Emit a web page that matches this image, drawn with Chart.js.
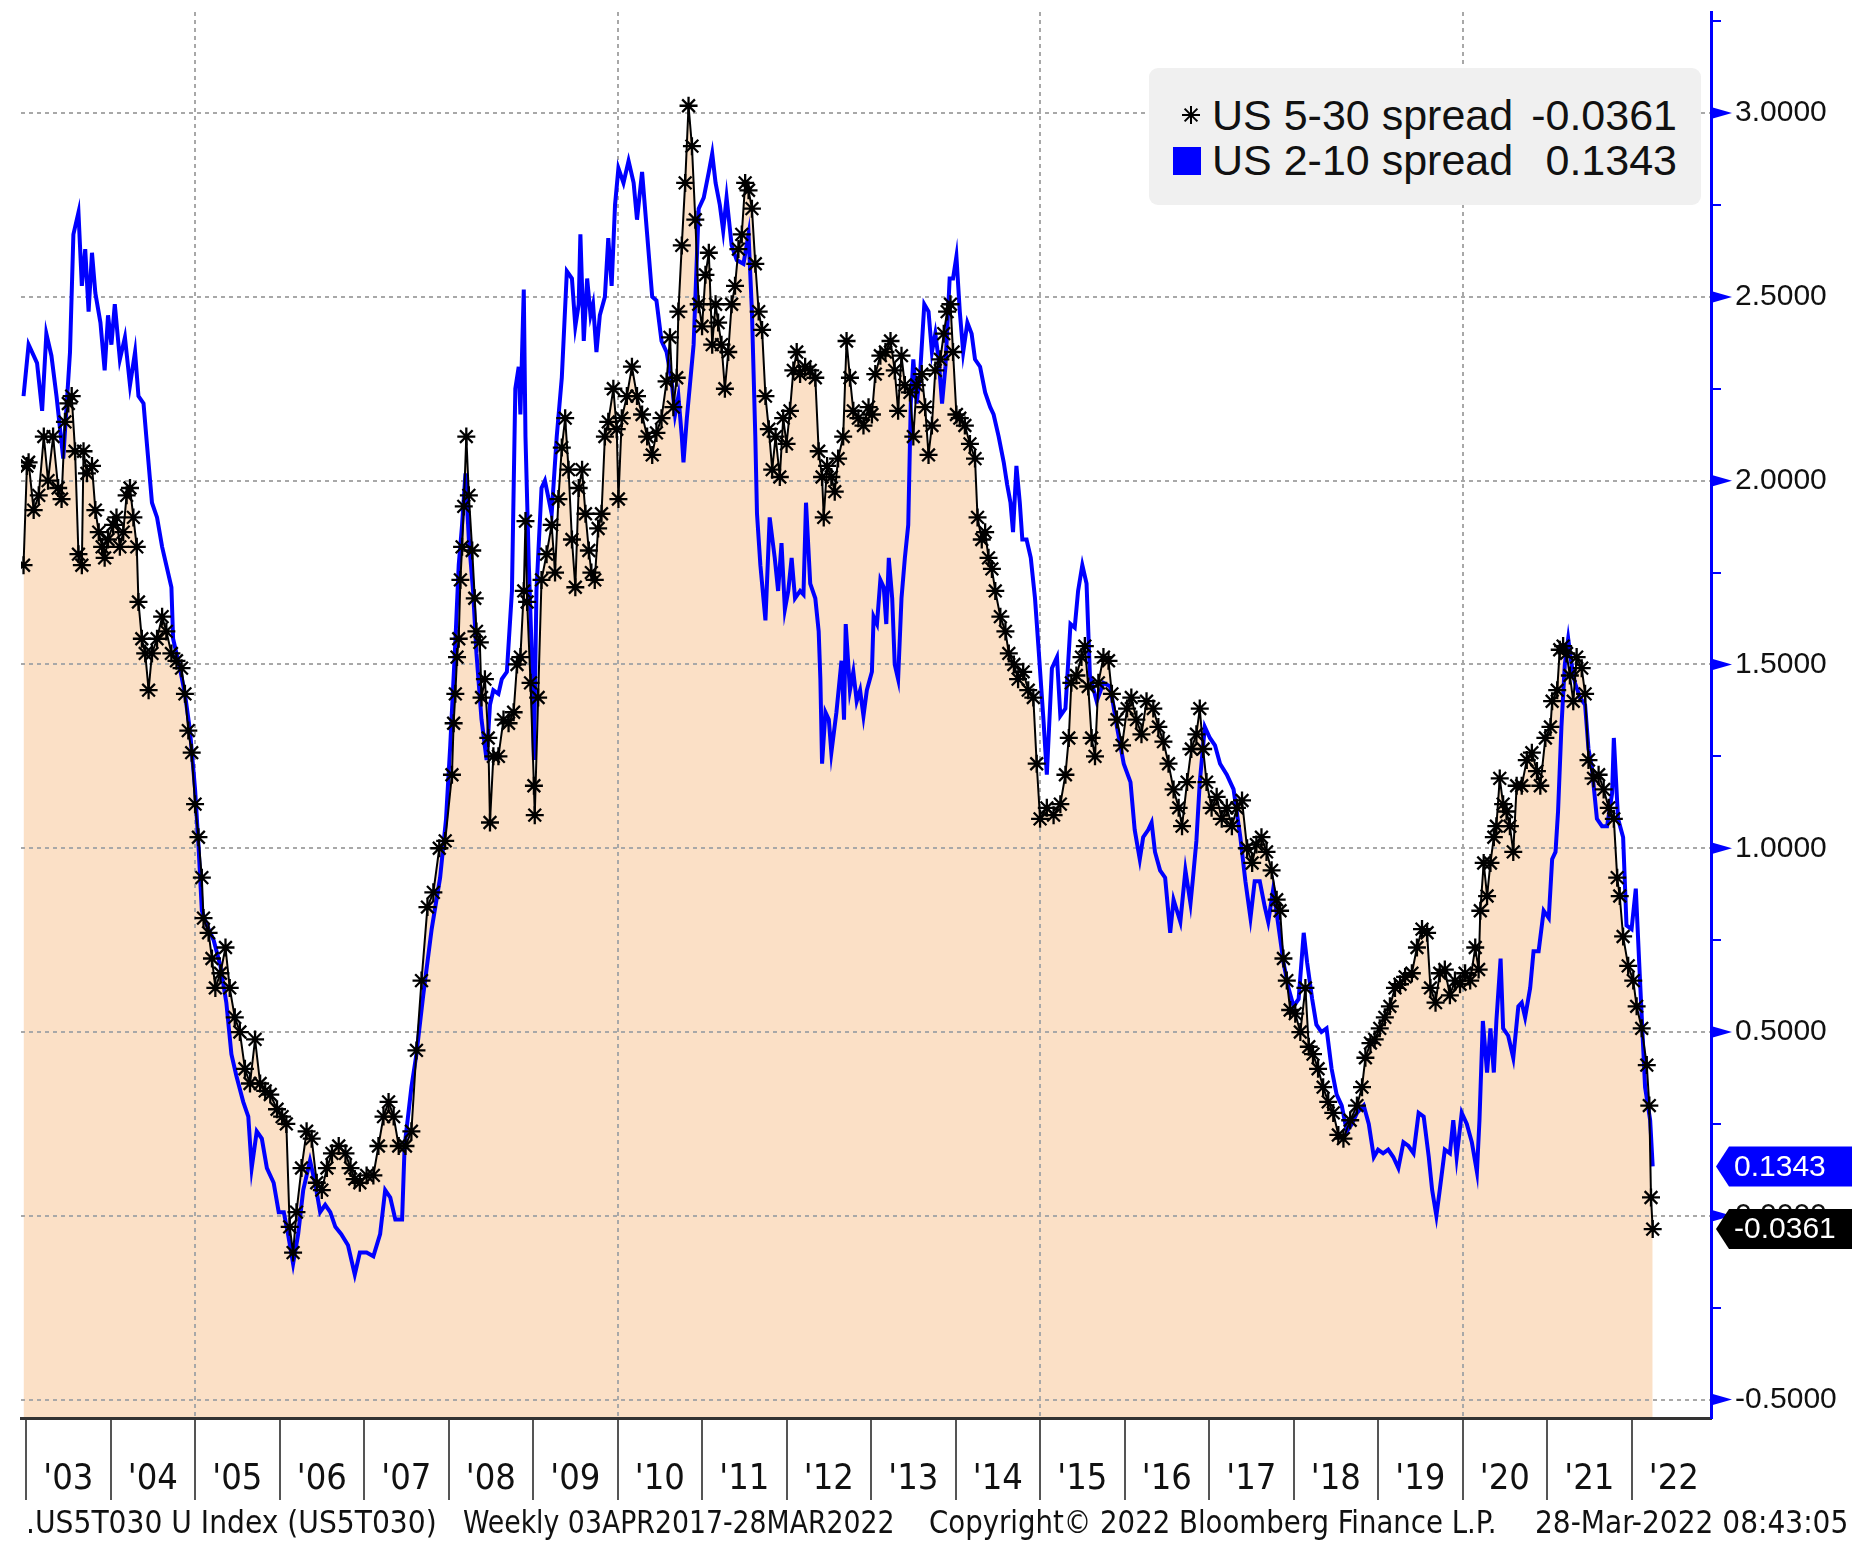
<!DOCTYPE html>
<html>
<head>
<meta charset="utf-8">
<script src="https://cdn.jsdelivr.net/npm/chart.js@4.4.1/dist/chart.umd.min.js"></script>
<style>
  body { margin: 0; background: #fff; }
  #wrap { position: relative; width: 1852px; height: 1542px; overflow: hidden; }
  #chart { position: absolute; left: 0; top: 0; }
  .legend {
    position: absolute; left: 1149px; top: 68px; width: 552px; height: 137px;
    background: #f0f0f0; border-radius: 9px;
    font-family: "Liberation Sans", Arial, sans-serif; font-size: 43px; color: #111;
  }
  .legend-row { position: absolute; left: 0; width: 100%; height: 46px; line-height: 46px; white-space: nowrap; }
  .legend-name { position: absolute; left: 63px; }
  .legend-value { position: absolute; right: 24px; }
  .legend-mark { position: absolute; }
  .footer span {
    position: absolute; top: 1504px; white-space: nowrap; transform-origin: 0 0;
    font-family: "Liberation Sans Narrow", "Arial Narrow", "DejaVu Sans Condensed", sans-serif;
    font-size: 32px; line-height: 36px; color: #111;
  }
</style>
</head>
<body>
<div id="wrap">
  <canvas id="chart" width="1852" height="1542"></canvas>
  <div class="legend" id="legend"></div>
  <div class="footer" id="footer"></div>
</div>
<script>
// US 5-30 spread (black asterisks, filled)
const spread530Dates = [
  2002.97, 2003.01, 2003.03, 2003.09, 2003.15, 2003.21, 2003.26, 2003.32, 2003.38, 2003.42,
  2003.46, 2003.50, 2003.54, 2003.58, 2003.62, 2003.66, 2003.68, 2003.72, 2003.78, 2003.82,
  2003.86, 2003.90, 2003.93, 2003.97, 2004.03, 2004.07, 2004.11, 2004.15, 2004.19, 2004.23,
  2004.27, 2004.31, 2004.33, 2004.37, 2004.41, 2004.45, 2004.49, 2004.55, 2004.61, 2004.66,
  2004.72, 2004.78, 2004.84, 2004.88, 2004.92, 2004.96, 2005.00, 2005.04, 2005.08, 2005.10,
  2005.16, 2005.20, 2005.24, 2005.30, 2005.36, 2005.41, 2005.47, 2005.53, 2005.59, 2005.65,
  2005.71, 2005.77, 2005.83, 2005.89, 2005.97, 2006.03, 2006.08, 2006.12, 2006.16, 2006.20,
  2006.26, 2006.32, 2006.38, 2006.44, 2006.50, 2006.56, 2006.62, 2006.70, 2006.78, 2006.84,
  2006.89, 2006.95, 2007.03, 2007.11, 2007.17, 2007.23, 2007.29, 2007.35, 2007.41, 2007.49,
  2007.56, 2007.62, 2007.68, 2007.75, 2007.82, 2007.89, 2007.96, 2008.04, 2008.06, 2008.08,
  2008.10, 2008.12, 2008.14, 2008.16, 2008.18, 2008.21, 2008.24, 2008.28, 2008.31, 2008.33,
  2008.37, 2008.39, 2008.43, 2008.47, 2008.49, 2008.53, 2008.59, 2008.65, 2008.71, 2008.77,
  2008.81, 2008.85, 2008.89, 2008.91, 2008.93, 2008.97, 2009.01, 2009.02, 2009.06, 2009.10,
  2009.16, 2009.22, 2009.26, 2009.30, 2009.34, 2009.38, 2009.42, 2009.46, 2009.50, 2009.54,
  2009.58, 2009.62, 2009.66, 2009.69, 2009.73, 2009.77, 2009.81, 2009.85, 2009.89, 2009.95,
  2009.99, 2010.01, 2010.05, 2010.11, 2010.17, 2010.23, 2010.29, 2010.35, 2010.41, 2010.46,
  2010.52, 2010.58, 2010.62, 2010.66, 2010.70, 2010.72, 2010.76, 2010.80, 2010.84, 2010.88,
  2010.92, 2010.96, 2011.00, 2011.04, 2011.08, 2011.12, 2011.16, 2011.19, 2011.23, 2011.27,
  2011.31, 2011.35, 2011.39, 2011.43, 2011.47, 2011.51, 2011.55, 2011.59, 2011.63, 2011.67,
  2011.71, 2011.75, 2011.79, 2011.83, 2011.87, 2011.92, 2011.96, 2012.00, 2012.04, 2012.08,
  2012.12, 2012.16, 2012.22, 2012.28, 2012.34, 2012.38, 2012.42, 2012.44, 2012.48, 2012.53,
  2012.57, 2012.61, 2012.67, 2012.71, 2012.75, 2012.79, 2012.85, 2012.91, 2012.97, 2013.01,
  2013.05, 2013.11, 2013.17, 2013.23, 2013.28, 2013.32, 2013.36, 2013.40, 2013.46, 2013.50,
  2013.54, 2013.60, 2013.64, 2013.68, 2013.72, 2013.76, 2013.82, 2013.86, 2013.90, 2013.94,
  2013.97, 2014.01, 2014.05, 2014.11, 2014.17, 2014.23, 2014.26, 2014.31, 2014.35, 2014.39,
  2014.43, 2014.47, 2014.53, 2014.59, 2014.63, 2014.69, 2014.74, 2014.80, 2014.86, 2014.92,
  2014.96, 2015.00, 2015.08, 2015.16, 2015.24, 2015.30, 2015.34, 2015.37, 2015.43, 2015.49,
  2015.53, 2015.57, 2015.61, 2015.65, 2015.69, 2015.75, 2015.81, 2015.85, 2015.91, 2015.97,
  2016.03, 2016.08, 2016.14, 2016.20, 2016.26, 2016.34, 2016.40, 2016.46, 2016.52, 2016.58,
  2016.64, 2016.68, 2016.74, 2016.79, 2016.85, 2016.89, 2016.93, 2016.97, 2017.03, 2017.09,
  2017.15, 2017.21, 2017.27, 2017.33, 2017.39, 2017.45, 2017.51, 2017.56, 2017.62, 2017.68,
  2017.74, 2017.80, 2017.84, 2017.88, 2017.92, 2017.96, 2018.02, 2018.08, 2018.14, 2018.18,
  2018.23, 2018.29, 2018.35, 2018.41, 2018.47, 2018.53, 2018.59, 2018.67, 2018.75, 2018.81,
  2018.85, 2018.91, 2018.96, 2019.02, 2019.08, 2019.14, 2019.20, 2019.26, 2019.32, 2019.40,
  2019.46, 2019.52, 2019.58, 2019.62, 2019.68, 2019.73, 2019.79, 2019.85, 2019.91, 2019.97,
  2020.03, 2020.09, 2020.15, 2020.19, 2020.21, 2020.25, 2020.29, 2020.33, 2020.37, 2020.40,
  2020.44, 2020.48, 2020.52, 2020.56, 2020.60, 2020.64, 2020.70, 2020.76, 2020.82, 2020.88,
  2020.92, 2020.98, 2021.04, 2021.06, 2021.12, 2021.15, 2021.19, 2021.23, 2021.27, 2021.31,
  2021.35, 2021.41, 2021.45, 2021.49, 2021.55, 2021.61, 2021.67, 2021.73, 2021.79, 2021.83,
  2021.86, 2021.90, 2021.96, 2022.02, 2022.06, 2022.12, 2022.18, 2022.21, 2022.23, 2022.25
];
const spread530Values = [
  1.77, 2.04, 2.05, 1.92, 1.96, 2.12, 2.00, 2.12, 1.98, 1.95,
  2.16, 2.21, 2.23, 2.08, 1.80, 1.77, 2.08, 2.02, 2.04, 1.92,
  1.86, 1.82, 1.79, 1.84, 1.88, 1.90, 1.82, 1.86, 1.96, 1.98,
  1.90, 1.82, 1.67, 1.57, 1.53, 1.43, 1.53, 1.57, 1.63, 1.59,
  1.53, 1.51, 1.49, 1.42, 1.32, 1.26, 1.12, 1.03, 0.92, 0.81,
  0.77, 0.70, 0.62, 0.66, 0.73, 0.62, 0.54, 0.50, 0.40, 0.36,
  0.48, 0.36, 0.34, 0.33, 0.29, 0.27, 0.25, -0.03, -0.10, 0.01,
  0.13, 0.23, 0.21, 0.09, 0.07, 0.13, 0.17, 0.19, 0.17, 0.13,
  0.10, 0.09, 0.11, 0.11, 0.19, 0.27, 0.31, 0.27, 0.19, 0.19,
  0.23, 0.45, 0.64, 0.84, 0.88, 1.00, 1.02, 1.20, 1.34, 1.42,
  1.52, 1.57, 1.73, 1.82, 1.93, 2.12, 1.96, 1.81, 1.68, 1.59,
  1.56, 1.41, 1.46, 1.30, 1.07, 1.25, 1.25, 1.35, 1.34, 1.37,
  1.50, 1.52, 1.70, 1.89, 1.67, 1.45, 1.17, 1.09, 1.41, 1.73,
  1.80, 1.88, 1.75, 1.95, 2.09, 2.17, 2.03, 1.84, 1.71, 1.98,
  2.03, 1.91, 1.81, 1.75, 1.73, 1.87, 1.91, 2.12, 2.16, 2.25,
  2.14, 1.95, 2.17, 2.23, 2.31, 2.23, 2.18, 2.12, 2.07, 2.13,
  2.17, 2.27, 2.39, 2.20, 2.28, 2.46, 2.64, 2.81, 3.02, 2.91,
  2.71, 2.48, 2.42, 2.56, 2.62, 2.37, 2.48, 2.43, 2.37, 2.25,
  2.35, 2.48, 2.53, 2.63, 2.67, 2.81, 2.79, 2.74, 2.59, 2.46,
  2.41, 2.23, 2.14, 2.03, 2.12, 2.01, 2.17, 2.10, 2.19, 2.30,
  2.35, 2.29, 2.31, 2.30, 2.28, 2.08, 2.01, 1.90, 2.04, 2.01,
  1.97, 2.06, 2.12, 2.38, 2.28, 2.19, 2.17, 2.15, 2.20, 2.18,
  2.29, 2.34, 2.35, 2.38, 2.30, 2.19, 2.34, 2.26, 2.24, 2.12,
  2.26, 2.29, 2.20, 2.07, 2.15, 2.30, 2.33, 2.40, 2.46, 2.48,
  2.35, 2.18, 2.17, 2.15, 2.10, 2.06, 1.90, 1.84, 1.86, 1.79,
  1.76, 1.70, 1.63, 1.59, 1.53, 1.50, 1.46, 1.48, 1.43, 1.41,
  1.23, 1.08, 1.11, 1.09, 1.12, 1.20, 1.30, 1.45, 1.47, 1.52,
  1.55, 1.44, 1.30, 1.25, 1.45, 1.52, 1.51, 1.42, 1.35, 1.28,
  1.38, 1.41, 1.35, 1.31, 1.40, 1.38, 1.33, 1.29, 1.23, 1.16,
  1.11, 1.06, 1.18, 1.27, 1.31, 1.38, 1.27, 1.18, 1.11, 1.14,
  1.08, 1.11, 1.06, 1.11, 1.13, 1.00, 0.96, 1.01, 1.03, 0.99,
  0.94, 0.86, 0.83, 0.70, 0.64, 0.56, 0.55, 0.50, 0.62, 0.46,
  0.44, 0.40, 0.35, 0.31, 0.28, 0.22, 0.21, 0.26, 0.30, 0.35,
  0.43, 0.47, 0.48, 0.51, 0.54, 0.57, 0.62, 0.63, 0.65, 0.66,
  0.73, 0.78, 0.77, 0.62, 0.58, 0.66, 0.67, 0.60, 0.64, 0.63,
  0.66, 0.64, 0.73, 0.67, 0.83, 0.96, 0.87, 0.96, 1.03, 1.06,
  1.19, 1.12, 1.10, 1.06, 0.99, 1.17, 1.17, 1.24, 1.26, 1.21,
  1.17, 1.30, 1.33, 1.40, 1.43, 1.54, 1.55, 1.53, 1.47, 1.40,
  1.52, 1.49, 1.42, 1.24, 1.19, 1.20, 1.16, 1.11, 1.08, 0.92,
  0.87, 0.76, 0.68, 0.64, 0.57, 0.51, 0.41, 0.30, 0.05, -0.0361
];

// US 2-10 spread (blue line)
const spread210Dates = [
  2002.97, 2003.03, 2003.09, 2003.13, 2003.19, 2003.24, 2003.30, 2003.36, 2003.44, 2003.52,
  2003.56, 2003.62, 2003.66, 2003.70, 2003.74, 2003.78, 2003.82, 2003.88, 2003.93, 2003.97,
  2004.01, 2004.05, 2004.11, 2004.17, 2004.23, 2004.29, 2004.33, 2004.39, 2004.43, 2004.49,
  2004.55, 2004.61, 2004.66, 2004.72, 2004.74, 2004.82, 2004.88, 2004.94, 2005.00, 2005.04,
  2005.08, 2005.14, 2005.22, 2005.30, 2005.37, 2005.43, 2005.49, 2005.57, 2005.63, 2005.67,
  2005.73, 2005.79, 2005.85, 2005.93, 2005.99, 2006.05, 2006.10, 2006.16, 2006.22, 2006.28,
  2006.36, 2006.42, 2006.48, 2006.54, 2006.60, 2006.66, 2006.73, 2006.81, 2006.89, 2006.95,
  2007.03, 2007.11, 2007.19, 2007.25, 2007.31, 2007.37, 2007.45, 2007.48, 2007.56, 2007.62,
  2007.70, 2007.80, 2007.90, 2007.97, 2008.02, 2008.08, 2008.12, 2008.16, 2008.20, 2008.24,
  2008.29, 2008.33, 2008.39, 2008.45, 2008.49, 2008.53, 2008.59, 2008.63, 2008.69, 2008.75,
  2008.79, 2008.83, 2008.85, 2008.89, 2008.91, 2008.95, 2008.99, 2009.01, 2009.04, 2009.10,
  2009.14, 2009.22, 2009.28, 2009.34, 2009.40, 2009.46, 2009.50, 2009.54, 2009.56, 2009.60,
  2009.64, 2009.68, 2009.71, 2009.75, 2009.79, 2009.85, 2009.89, 2009.93, 2009.97, 2010.01,
  2010.07, 2010.13, 2010.19, 2010.23, 2010.29, 2010.35, 2010.41, 2010.46, 2010.52, 2010.58,
  2010.64, 2010.68, 2010.72, 2010.76, 2010.78, 2010.82, 2010.86, 2010.90, 2010.96, 2011.02,
  2011.08, 2011.12, 2011.16, 2011.21, 2011.25, 2011.29, 2011.35, 2011.41, 2011.49, 2011.55,
  2011.59, 2011.63, 2011.65, 2011.69, 2011.75, 2011.80, 2011.86, 2011.90, 2011.94, 2011.98,
  2012.02, 2012.06, 2012.10, 2012.16, 2012.20, 2012.23, 2012.28, 2012.34, 2012.38, 2012.40,
  2012.42, 2012.46, 2012.50, 2012.53, 2012.59, 2012.65, 2012.68, 2012.70, 2012.75, 2012.79,
  2012.83, 2012.87, 2012.91, 2012.95, 2013.01, 2013.03, 2013.07, 2013.11, 2013.15, 2013.18,
  2013.21, 2013.25, 2013.28, 2013.32, 2013.36, 2013.40, 2013.44, 2013.47, 2013.50, 2013.54,
  2013.58, 2013.63, 2013.68, 2013.72, 2013.76, 2013.80, 2013.84, 2013.88, 2013.93, 2013.97,
  2014.01, 2014.05, 2014.09, 2014.14, 2014.19, 2014.23, 2014.29, 2014.35, 2014.41, 2014.45,
  2014.51, 2014.57, 2014.61, 2014.65, 2014.68, 2014.72, 2014.76, 2014.79, 2014.84, 2014.89,
  2014.94, 2014.98, 2015.04, 2015.08, 2015.14, 2015.20, 2015.24, 2015.30, 2015.36, 2015.41,
  2015.45, 2015.50, 2015.55, 2015.59, 2015.67, 2015.75, 2015.83, 2015.91, 2015.99, 2016.07,
  2016.12, 2016.18, 2016.22, 2016.28, 2016.32, 2016.36, 2016.42, 2016.48, 2016.54, 2016.58,
  2016.62, 2016.66, 2016.72, 2016.78, 2016.81, 2016.85, 2016.89, 2016.95, 2017.01, 2017.07,
  2017.13, 2017.21, 2017.29, 2017.37, 2017.43, 2017.49, 2017.54, 2017.60, 2017.66, 2017.70,
  2017.76, 2017.82, 2017.88, 2017.94, 2018.00, 2018.06, 2018.12, 2018.16, 2018.22, 2018.27,
  2018.33, 2018.39, 2018.45, 2018.51, 2018.57, 2018.63, 2018.69, 2018.75, 2018.83, 2018.89,
  2018.95, 2019.00, 2019.06, 2019.12, 2019.18, 2019.24, 2019.30, 2019.36, 2019.42, 2019.48,
  2019.54, 2019.60, 2019.64, 2019.69, 2019.73, 2019.79, 2019.85, 2019.89, 2019.93, 2019.99,
  2020.05, 2020.11, 2020.17, 2020.20, 2020.24, 2020.29, 2020.33, 2020.37, 2020.40, 2020.45,
  2020.48, 2020.54, 2020.60, 2020.66, 2020.70, 2020.74, 2020.80, 2020.84, 2020.90, 2020.96,
  2021.02, 2021.06, 2021.10, 2021.13, 2021.17, 2021.21, 2021.25, 2021.29, 2021.33, 2021.39,
  2021.45, 2021.49, 2021.53, 2021.59, 2021.65, 2021.71, 2021.77, 2021.79, 2021.84, 2021.90,
  2021.94, 2022.00, 2022.05, 2022.10, 2022.16, 2022.22, 2022.25
];
const spread210Values = [
  2.23, 2.37, 2.34, 2.32, 2.19, 2.40, 2.34, 2.23, 2.06, 2.35,
  2.67, 2.73, 2.53, 2.63, 2.46, 2.62, 2.51, 2.43, 2.30, 2.45,
  2.37, 2.48, 2.33, 2.39, 2.26, 2.35, 2.23, 2.21, 2.10, 1.94,
  1.90, 1.82, 1.77, 1.71, 1.57, 1.49, 1.42, 1.32, 1.16, 1.01,
  0.83, 0.79, 0.75, 0.68, 0.58, 0.44, 0.38, 0.31, 0.27, 0.13,
  0.23, 0.21, 0.13, 0.09, 0.01, 0.01, -0.05, -0.13, -0.05, 0.07,
  0.15, 0.09, 0.01, 0.03, 0.01, -0.03, -0.05, -0.08, -0.16, -0.10,
  -0.10, -0.11, -0.05, 0.07, 0.05, -0.01, -0.01, 0.19, 0.35, 0.44,
  0.60, 0.78, 0.92, 1.08, 1.28, 1.56, 1.77, 1.88, 2.02, 1.84,
  1.70, 1.53, 1.35, 1.24, 1.39, 1.43, 1.42, 1.46, 1.48, 1.70,
  2.25, 2.31, 2.18, 2.52, 2.12, 1.77, 1.49, 1.24, 1.70, 1.98,
  2.00, 1.91, 2.12, 2.28, 2.57, 2.55, 2.42, 2.48, 2.67, 2.38,
  2.55, 2.45, 2.48, 2.35, 2.45, 2.50, 2.66, 2.53, 2.75, 2.85,
  2.81, 2.87, 2.81, 2.71, 2.84, 2.67, 2.50, 2.49, 2.38, 2.35,
  2.27, 2.18, 2.23, 2.12, 2.05, 2.17, 2.27, 2.37, 2.74, 2.77,
  2.84, 2.89, 2.81, 2.75, 2.68, 2.77, 2.64, 2.60, 2.59, 2.67,
  2.46, 2.12, 1.91, 1.77, 1.62, 1.90, 1.79, 1.70, 1.83, 1.65,
  1.70, 1.79, 1.68, 1.70, 1.69, 1.94, 1.72, 1.68, 1.59, 1.46,
  1.23, 1.37, 1.35, 1.26, 1.37, 1.51, 1.35, 1.61, 1.43, 1.48,
  1.40, 1.43, 1.36, 1.43, 1.48, 1.63, 1.61, 1.73, 1.71, 1.61,
  1.79, 1.68, 1.50, 1.46, 1.68, 1.79, 1.88, 2.21, 2.33, 2.21,
  2.29, 2.48, 2.46, 2.35, 2.40, 2.33, 2.21, 2.31, 2.55, 2.55,
  2.61, 2.46, 2.35, 2.43, 2.40, 2.33, 2.31, 2.24, 2.20, 2.18,
  2.12, 2.05, 1.99, 1.94, 1.86, 2.04, 1.94, 1.84, 1.84, 1.79,
  1.68, 1.55, 1.35, 1.20, 1.49, 1.52, 1.36, 1.38, 1.61, 1.60,
  1.70, 1.77, 1.72, 1.47, 1.40, 1.45, 1.44, 1.33, 1.23, 1.18,
  1.05, 0.97, 1.03, 1.05, 1.07, 0.99, 0.94, 0.92, 0.77, 0.86,
  0.83, 0.80, 0.94, 0.85, 0.92, 1.02, 1.18, 1.33, 1.30, 1.28,
  1.23, 1.20, 1.16, 1.03, 0.91, 0.81, 0.91, 0.91, 0.84, 0.80,
  0.89, 0.79, 0.69, 0.62, 0.57, 0.59, 0.77, 0.69, 0.59, 0.52,
  0.50, 0.51, 0.40, 0.33, 0.30, 0.23, 0.25, 0.28, 0.30, 0.25,
  0.16, 0.18, 0.17, 0.18, 0.16, 0.13, 0.20, 0.19, 0.17, 0.28,
  0.27, 0.16, 0.07, 0.00, 0.07, 0.18, 0.17, 0.26, 0.16, 0.28,
  0.25, 0.20, 0.12, 0.26, 0.53, 0.39, 0.51, 0.39, 0.53, 0.70,
  0.51, 0.49, 0.43, 0.57, 0.58, 0.54, 0.62, 0.72, 0.72, 0.83,
  0.81, 0.97, 0.99, 1.10, 1.33, 1.50, 1.57, 1.50, 1.45, 1.41,
  1.39, 1.27, 1.22, 1.08, 1.06, 1.06, 1.15, 1.30, 1.08, 1.03,
  0.79, 0.78, 0.89, 0.64, 0.35, 0.26, 0.1343
];

const seriesNames = ['US 5-30 spread', 'US 2-10 spread'];
const yearLabels = ["'03", "'04", "'05", "'06", "'07", "'08", "'09", "'10", "'11", "'12",
                    "'13", "'14", "'15", "'16", "'17", "'18", "'19", "'20", "'21", "'22"];
const firstYear = 2003;
const yMajorTicks = [-0.5, 0, 0.5, 1, 1.5, 2, 2.5, 3];
const yMinorTicks = [-0.25, 0.25, 0.75, 1.25, 1.75, 2.25, 2.75, 3.25];
const footerTexts = ['.US5T030 U Index (US5T030)', 'Weekly 03APR2017-28MAR2022',
                     'Copyright\u00a9 2022 Bloomberg Finance L.P.', '28-Mar-2022 08:43:05'];

const BLUE = '#0000ff';
const PEACH = 'rgb(251,224,198)';
const GRID = '#a8a8a8';
const NARROW = '"Liberation Sans Narrow", "Arial Narrow", "DejaVu Sans Condensed", sans-serif';

Chart.defaults.font.family = '"Liberation Sans", Arial, sans-serif';
Chart.defaults.color = '#111';

const last530 = spread530Values[spread530Values.length - 1];
const last210 = spread210Values[spread210Values.length - 1];

// pointy value tags on the right axis + triangles on major ticks
const axisDecor = {
    id: 'axisDecor',
    afterDraw(chart) {
        const ctx = chart.ctx;
        const y = chart.scales.y;
        const ax = y.left;
        ctx.save();
        ctx.fillStyle = BLUE;
        yMajorTicks.forEach(v => {
            const py = y.getPixelForValue(v);
            ctx.beginPath();
            ctx.moveTo(ax, py - 6);
            ctx.lineTo(ax + 21, py);
            ctx.lineTo(ax, py + 6);
            ctx.closePath();
            ctx.fill();
        });

        const tags = [
            { value: last210, bg: BLUE },
            { value: last530, bg: '#000' }
        ];
        tags.forEach(t => {
            const py = y.getPixelForValue(t.value);
            ctx.fillStyle = t.bg;
            ctx.beginPath();
            ctx.moveTo(ax + 5, py);
            ctx.lineTo(ax + 18, py - 20);
            ctx.lineTo(chart.width, py - 20);
            ctx.lineTo(chart.width, py + 20);
            ctx.lineTo(ax + 18, py + 20);
            ctx.closePath();
            ctx.fill();
            ctx.fillStyle = '#fff';
            ctx.font = '30px "Liberation Sans", Arial, sans-serif';
            ctx.textBaseline = 'middle';
            ctx.textAlign = 'left';
            ctx.fillText(t.value.toFixed(4), ax + 23, py + 1);
        });
        ctx.restore();
    }
};

const ctx = document.getElementById('chart').getContext('2d');
new Chart(ctx, {
    type: 'line',
    data: {
        datasets: [{
            label: seriesNames[0],
            data: spread530Dates.map((d, i) => ({ x: d, y: spread530Values[i] })),
            borderColor: '#000',
            borderWidth: 2,
            backgroundColor: PEACH,
            fill: 'start',
            pointStyle: 'star',
            pointRadius: 9,
            pointBorderColor: '#000',
            pointBorderWidth: 2.3,
            tension: 0,
            order: 0
        }, {
            label: seriesNames[1],
            data: spread210Dates.map((d, i) => ({ x: d, y: spread210Values[i] })),
            borderColor: BLUE,
            borderWidth: 4,
            pointRadius: 0,
            fill: false,
            tension: 0,
            order: 1
        }]
    },
    options: {
        responsive: false,
        animation: false,
        devicePixelRatio: 1,
        layout: { padding: { left: 21, top: 12, right: 0, bottom: 0 } },
        plugins: {
            legend: { display: false },
            tooltip: { enabled: false },
            filler: { drawTime: 'beforeDraw' }
        },
        scales: {
            x: {
                type: 'linear',
                position: 'bottom',
                min: 2002.94,
                max: 2022.94,
                afterBuildTicks: (scale) => {
                    const ticks = [];
                    yearLabels.forEach((lab, i) => {
                        ticks.push({ value: firstYear + i });
                        ticks.push({ value: firstYear + i + 0.5 });
                    });
                    scale.ticks = ticks;
                },
                afterFit: (scale) => {
                    scale.height = 124;
                    scale.paddingLeft = 0;
                    scale.paddingRight = 0;
                },
                ticks: {
                    autoSkip: false,
                    maxRotation: 0,
                    padding: -42,
                    font: { family: NARROW, size: 36 },
                    color: '#111',
                    callback: (value) => {
                        if (value % 1 !== 0.5) return '';
                        return yearLabels[Math.floor(value) - firstYear];
                    }
                },
                grid: {
                    drawOnChartArea: true,
                    drawTicks: true,
                    tickLength: 82,
                    tickWidth: 2,
                    lineWidth: 2,
                    color: (c) => {
                        const v = c.tick ? c.tick.value : null;
                        return Number.isInteger(v) && v % 5 === 0 ? GRID : 'rgba(0,0,0,0)';
                    },
                    tickColor: (c) => {
                        const v = c.tick ? c.tick.value : null;
                        return Number.isInteger(v) ? '#555' : 'rgba(0,0,0,0)';
                    }
                },
                border: { display: true, color: '#333', width: 3, dash: [4, 4] }
            },
            y: {
                type: 'linear',
                position: 'right',
                min: -0.55,
                max: 3.275,
                afterBuildTicks: (scale) => {
                    const vals = yMajorTicks.concat(yMinorTicks).sort((a, b) => a - b);
                    scale.ticks = vals.map(v => ({ value: v }));
                },
                afterFit: (scale) => {
                    scale.width = 141;
                    scale.paddingTop = 0;
                    scale.paddingBottom = 0;
                },
                ticks: {
                    autoSkip: false,
                    padding: 14,
                    font: { size: 30 },
                    color: '#111',
                    callback: (value) => yMajorTicks.includes(value) ? value.toFixed(4) : ''
                },
                grid: {
                    drawTicks: true,
                    tickLength: 10,
                    tickWidth: 2,
                    tickColor: BLUE,
                    lineWidth: 2,
                    color: (c) => {
                        const v = c.tick ? c.tick.value : null;
                        return yMajorTicks.includes(v) ? GRID : 'rgba(0,0,0,0)';
                    }
                },
                border: { display: true, color: BLUE, width: 3, dash: [4, 4] }
            }
        }
    },
    plugins: [axisDecor]
});

// legend box (name + last value)
const asteriskSvg = '<svg width="20" height="20" viewBox="-10 -10 20 20"><g stroke="#000" stroke-width="2">' +
    '<line x1="-9" y1="0" x2="9" y2="0"/><line x1="0" y1="-9" x2="0" y2="9"/>' +
    '<line x1="-6.4" y1="-6.4" x2="6.4" y2="6.4"/><line x1="-6.4" y1="6.4" x2="6.4" y2="-6.4"/></g></svg>';
document.getElementById('legend').innerHTML = `
    <div class="legend-row" style="top:24px">
        <span class="legend-mark" style="left:32px;top:13px;line-height:0">${asteriskSvg}</span>
        <span class="legend-name">${seriesNames[0]}</span>
        <span class="legend-value">${last530.toFixed(4)}</span>
    </div>
    <div class="legend-row" style="top:69px">
        <span class="legend-mark" style="left:24px;top:10px;width:28px;height:28px;background:${BLUE}"></span>
        <span class="legend-name">${seriesNames[1]}</span>
        <span class="legend-value">${last210.toFixed(4)}</span>
    </div>`;

// footer line, each piece squeezed to its slot
const footerSlots = [[26, 437], [463, 895], [929, 1496], [1535, 1848]];
const footer = document.getElementById('footer');
footerTexts.forEach((txt, i) => {
    const span = document.createElement('span');
    span.textContent = txt;
    span.style.left = footerSlots[i][0] + 'px';
    footer.appendChild(span);
    const want = footerSlots[i][1] - footerSlots[i][0];
    const have = span.offsetWidth;
    if (have > 0) span.style.transform = `scaleX(${want / have})`;
});
</script>
</body>
</html>
